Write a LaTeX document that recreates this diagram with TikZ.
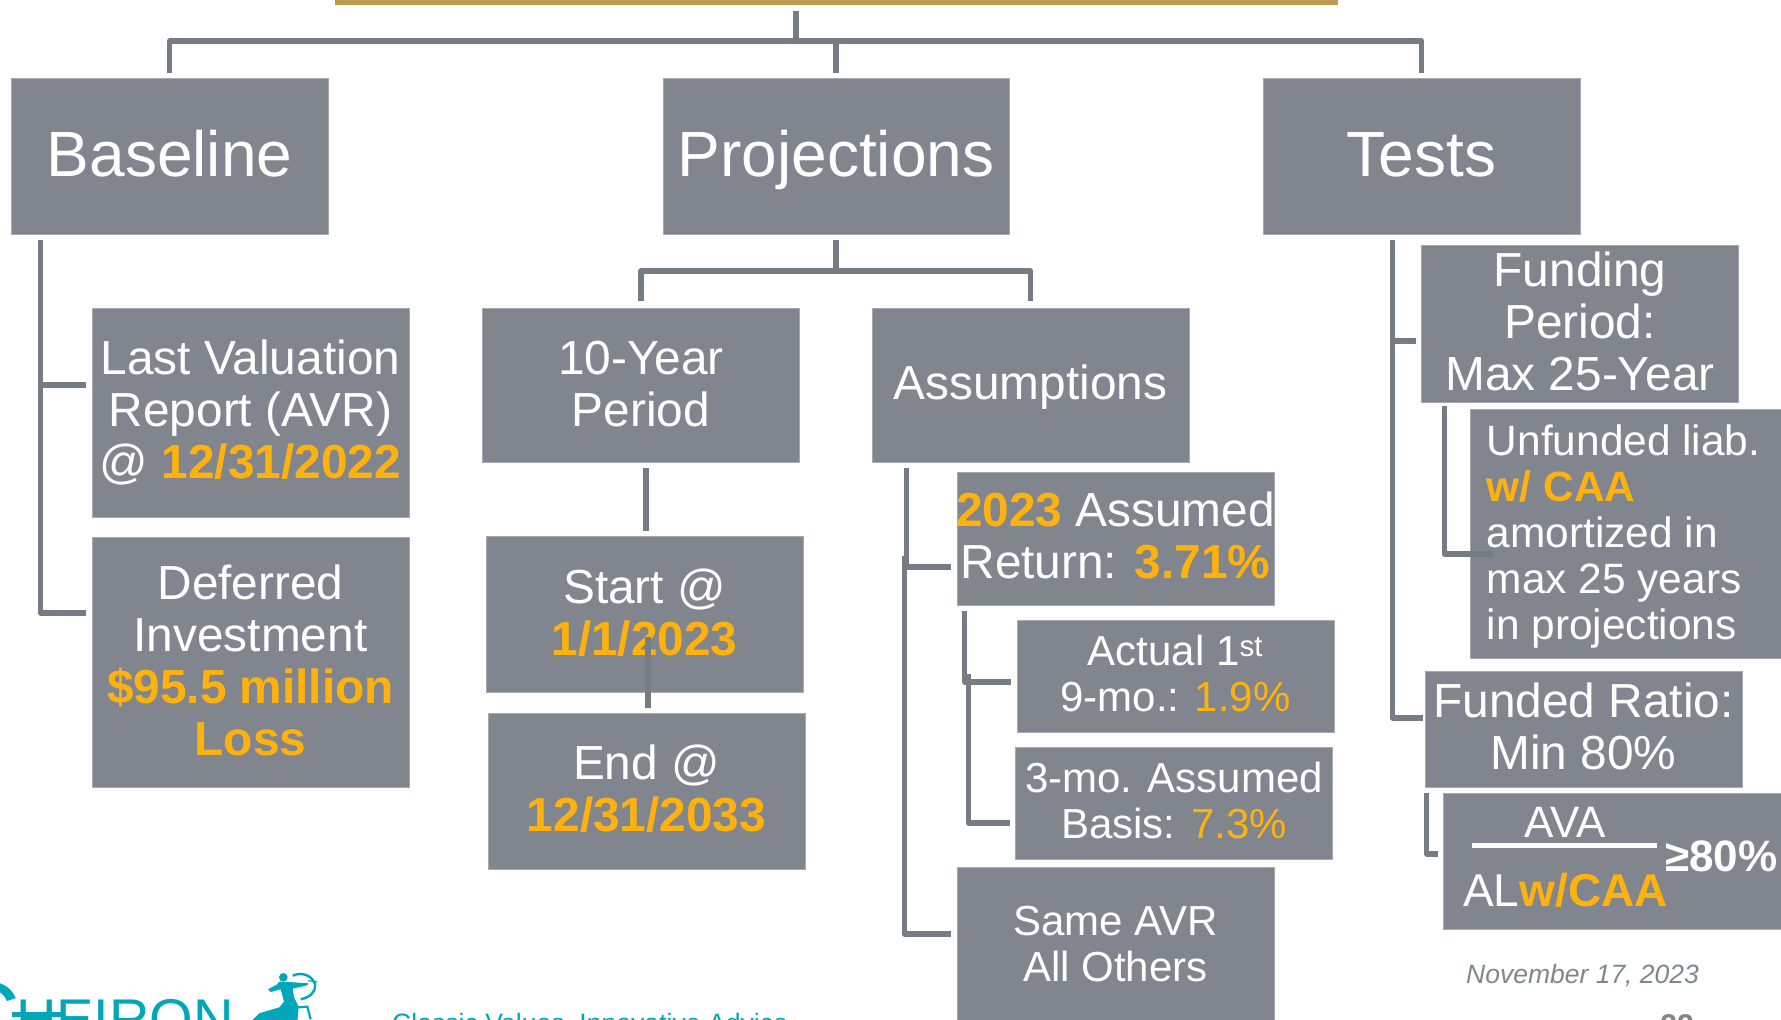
\documentclass[tikz,border=0pt]{standalone}
\usepackage{fontspec}
\setmainfont{Liberation Sans}
\definecolor{boxgrey}{HTML}{81868E}
\definecolor{boxedge}{HTML}{A6A9AF}
\definecolor{linkgrey}{HTML}{767C84}
\definecolor{goldbar}{HTML}{BC9A4E}
\definecolor{goldtext}{HTML}{FFB20E}
\definecolor{cheironteal}{HTML}{00A7B8}
\newcommand{\gd}[1]{\textcolor{goldtext}{\textbf{#1}}}
\newcommand{\gl}[1]{\textcolor{goldtext}{#1}}
\tikzset{
  box/.style={rectangle,fill=boxgrey,draw=boxedge,line width=0.5pt,text=white,align=center,inner sep=0pt},
  tbox/.style={box,minimum width=317pt,minimum height=#1},
  title/.style={font=\fontsize{64}{70}\selectfont,text height=46pt,text depth=6pt},
  big/.style={text=white,align=center,inner sep=0pt,font=\fontsize{47.8}{52}\selectfont},
  small/.style={text=white,align=center,inner sep=0pt,font=\fontsize{42}{46}\selectfont},
  link/.style={draw=linkgrey,line width=5.2pt,line join=round},
  plain/.style={inner sep=0pt,text=white},
  brand/.style={inner sep=0pt,text=cheironteal},
}
\begin{document}
\begin{tikzpicture}[x=1pt,y=-1pt]
\useasboundingbox (0,0) rectangle (1781,1020);
\clip (0,0) rectangle (1781,1020);
% boxes
\node[rectangle,fill=goldbar,minimum width=1003pt,minimum height=5pt,inner sep=0pt] (topbar) at (836.5,2) {};
\node[tbox=156pt,title] (baseline) at (169.5,156) {Baseline};
\node[box,minimum width=346pt,minimum height=156pt,title] (projections) at (836,156) {Projections};
\node[tbox=156pt,title] (tests) at (1421.5,156) {Tests};
\node[tbox=209pt,label={[big]center:{Last Valuation\\Report (AVR)\\@ \gd{12/31/2022}}}] (lastval) at (250.5,412.5) {};
\node[tbox=250pt,label={[big,yshift=1.5pt]center:{Deferred\\Investment\\\gd{\$95.5 million}\\\gd{Loss}}}] (deferred) at (250.5,662) {};
\node[tbox=154pt,label={[big,yshift=1pt]center:{10-Year\\Period}}] (tenyear) at (641,385) {};
\node[tbox=154pt,label={[big,yshift=-2pt]center:{Assumptions}}] (assumptions) at (1030.5,385) {};
\node[tbox=156pt,label={[big,yshift=1pt]center:{Start @\\\gd{1/1/2023}}}] (start) at (644.5,614) {};
\node[tbox=156pt,label={[big,yshift=2pt]center:{End @\\\gd{12/31/2033}}}] (finish) at (646.5,791) {};
\node[tbox=133pt,label={[big,yshift=3.5pt]center:{\gd{2023} Assumed\\Return: \gd{3.71\%}}}] (ret) at (1115.5,538.5) {};
\node[tbox=112pt,label={[small,yshift=2.5pt]center:{Actual 1\textsuperscript{st}\\9-mo.: \gl{1.9\%}}}] (actual) at (1175.5,676) {};
\node[tbox=112pt,label={[small,yshift=2.5pt]center:{3-mo. Assumed\\Basis: \gl{7.3\%}}}] (basis) at (1174,803) {};
\node[tbox=156pt,label={[small,yshift=1pt]center:{Same AVR\\All Others}}] (same) at (1115.5,945) {};
\node[tbox=157pt,label={[big,yshift=2.5pt]center:{Funding\\Period:\\Max 25-Year}}] (funding) at (1580,323.5) {};
\node[box,minimum width=320pt,minimum height=249pt] (unfunded) at (1630,533.5) {};
\node[tbox=116pt,label={[big,yshift=2.5pt]center:{Funded Ratio:\\Min 80\%}}] (funded) at (1583.5,729) {};
\node[box,minimum width=347pt,minimum height=136pt] (ava) at (1616.5,861) {};
% fraction
\node[plain,font=\fontsize{44}{48}\selectfont,anchor=base] (fracnum) at (1565,837) {AVA};
\node[rectangle,fill=white,minimum width=185pt,minimum height=5pt,inner sep=0pt] (fracbar) at (1564.5,845) {};
\node[plain,font=\fontsize{46}{50}\selectfont,anchor=base west] (fracden) at (1463,906) {AL\textcolor{goldtext}{\textbf{w/CAA}}};
\node[plain,font=\fontsize{44}{48}\selectfont\bfseries,anchor=base west] (fracpct) at (1665,871) {≥80\%};
% connectors
\coordinate (rail) at (796,41);
\coordinate (pjrail) at (836,271);
\draw[link] ([shift={(-40.5,6.5)}]topbar.south) -- (rail);
\draw[link] ([shift={(0,-5)}]baseline.north) |- (rail) -| ([shift={(0,-5)}]tests.north);
\draw[link] ([shift={(0,-5)}]projections.north) -- (projections.north |- rail);
\draw[link] ([shift={(0,6)}]projections.south) -- (pjrail);
\draw[link] ([shift={(0,-7)}]tenyear.north) |- (pjrail) -| ([shift={(0,-7)}]assumptions.north);
\draw[link] ([shift={(30,6)}]baseline.south west) |- ([shift={(-6,-49)}]deferred.west);
\draw[link] ([shift={(-6,-27.5)}]lastval.west) -| ([shift={(30,6)}]baseline.south west);
\draw[link] ([shift={(5,6)}]tenyear.south) -- ([shift={(1.5,-5)}]start.north);
\draw[link] ([shift={(3.5,-55)}]start.south) -- ([shift={(1.5,-5)}]finish.north);
\draw[link] ([shift={(35,6)}]assumptions.south west) |- ([shift={(-6,28.5)}]ret.west);
\draw[link] ([shift={(-52,17)}]ret.west) |- ([shift={(-6,-11)}]same.west);
\draw[link] ([shift={(8,6)}]ret.south west) |- ([shift={(-6,6)}]actual.west);
\draw[link] ([shift={(-48,-2)}]actual.west) |- ([shift={(-5,20)}]basis.west);
\draw[link] ([shift={(130,6)}]tests.south west) |- ([shift={(-5,17.5)}]funding.west);
\draw[link] ([shift={(130,6)}]tests.south west) |- ([shift={(-2,-11)}]funded.west);
\draw[link] ([shift={(23,4)}]funding.south west) |- ([shift={(23,20.5)}]unfunded.west);
\draw[link] ([shift={(2,6)}]funded.south west) |- ([shift={(-5,-7)}]ava.west);
% left-aligned text sits over the connector's end
\node[small,font=\fontsize{42.4}{46}\selectfont,align=left,anchor=west] (unfundedtext) at ([shift={(17,3)}]unfunded.west) {Unfunded liab.\\\gd{w/ CAA}\\amortized in\\max 25 years\\in projections};
% footer
\node[inner sep=0pt,text=boxgrey,font=\fontsize{26.5}{30}\selectfont\itshape,anchor=base west] (datetext) at (1466,983) {November 17, 2023};
\node[inner sep=0pt,text=boxgrey,font=\fontsize{30}{34}\selectfont\bfseries,anchor=base] (pagenum) at (1677,1035) {22};
\node[brand,font=\fontsize{26.6}{30}\selectfont,anchor=base west] (tagline) at (392,1032) {Classic Values, Innovative Advice};
\node[brand,font=\fontsize{100}{100}\selectfont,anchor=base west] (logoc) at (-52,1051) {C};
\node[brand,font=\fontsize{56}{60}\selectfont,anchor=base west] (logotext) at (16,1038) {HEIRON};
\fill[cheironteal] (12,1011.5) rectangle (63,1017);
% centaur mark
\begin{scope}[shift={(0,960)},scale=1/3]
\fill[cheironteal] (850,52) circle (13);
\fill[cheironteal] (838,65) -- (868,66) -- (925,70) -- (922,76) -- (878,86) -- (882,112)
  -- (896,140) -- (892,185) -- (752,185) -- (778,160) -- (838,142) -- (852,125) -- (842,88)
  -- (812,96) -- (804,88) -- (830,74) -- cycle;
\draw[cheironteal,line width=2.4pt] (878,47) .. controls (905,35) and (935,45) .. (945,72)
  .. controls (948,95) and (930,112) .. (902,118);
\draw[cheironteal,line width=1.2pt] (925,62) -- (952,66);
\draw[cheironteal,line width=2.2pt] (893,142) -- (922,140) -- (932,178);
\end{scope}
\end{tikzpicture}
\end{document}
